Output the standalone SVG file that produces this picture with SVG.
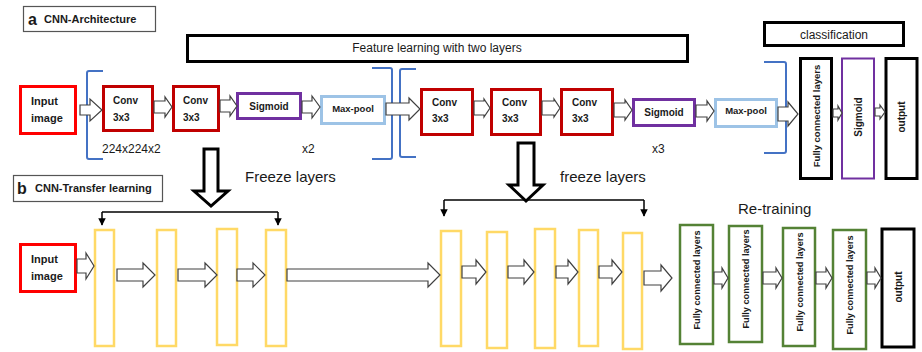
<svg xmlns="http://www.w3.org/2000/svg" width="922" height="352" viewBox="0 0 922 352">
<style>
text{font-family:"Liberation Sans",Arial,sans-serif;fill:#1a1a1a}
.b{font-weight:bold;font-size:10px}
.r{font-size:12px}
.big{font-size:15px}
.vt{font-weight:bold;font-size:9.5px;text-anchor:middle}
.vb{font-size:9.2px}
.box{fill:#fff}
.red{stroke:#ff0000;stroke-width:3}
.dred{stroke:#c00000;stroke-width:3}
.pur{stroke:#7030a0;stroke-width:3}
.lb{stroke:#9dc3e6;stroke-width:3}
.blk{stroke:#000;stroke-width:3}
.ttl{stroke:#555;stroke-width:1.2}
.yel{stroke:#ffd966;stroke-width:2.5}
.grn{stroke:#548235;stroke-width:2.5}
.arr{fill:#fff;stroke:#404040;stroke-width:1.2}
.darr{fill:#fff;stroke:#000;stroke-width:3}
.brk{fill:none;stroke:#4472c4;stroke-width:2}
.ln{fill:none;stroke:#000;stroke-width:1.5}
</style>
<defs>
<marker id="ah" viewBox="0 0 10 10" refX="9" refY="5" markerWidth="5" markerHeight="5" orient="auto"><path d="M0,0 L10,5 L0,10 Z" fill="#000"/></marker>
</defs>

<g id="title-a"><rect class="box ttl" x="23.5" y="6.5" width="132" height="25"/><text x="28" y="25" style="font-weight:bold;font-size:16px">a</text><text x="44" y="23" class="b" style="font-size:11px">CNN-Architecture</text></g>
<g id="feature-learning"><rect class="box blk" x="187.5" y="35.5" width="500" height="26"/><text x="437" y="52" class="r" text-anchor="middle">Feature learning with two layers</text></g>
<g id="classification"><rect class="box blk" x="764.5" y="22.5" width="139" height="23"/><text x="834" y="39" class="r" text-anchor="middle">classification</text></g>

<g id="input-a"><rect class="box red" x="20.5" y="86.5" width="55" height="47"/><text x="31" y="105" class="b" style="font-size:11px">Input</text><text x="31" y="122" class="b" style="font-size:11px">image</text></g>
<g id="conv1"><rect class="box dred" x="103.5" y="86.5" width="49" height="44"/><text x="113" y="104" class="b">Conv</text><text x="113" y="121" class="b">3x3</text></g>
<g id="conv2"><rect class="box dred" x="173.5" y="86.5" width="45" height="44"/><text x="183" y="104" class="b">Conv</text><text x="183" y="121" class="b">3x3</text></g>
<g id="sigmoid1"><rect class="box pur" x="237.5" y="93.5" width="63" height="25"/><text x="269" y="110" class="b" text-anchor="middle">Sigmoid</text></g>
<g id="maxpool1"><rect class="box lb" x="321.5" y="96.5" width="63" height="27"/><text x="353" y="112" class="b" text-anchor="middle" style="font-size:9.5px">Max-pool</text></g>
<g id="conv3"><rect class="box dred" x="421.5" y="89.5" width="51" height="45"/><text x="432" y="106" class="b">Conv</text><text x="432" y="122" class="b">3x3</text></g>
<g id="conv4"><rect class="box dred" x="491.5" y="89.5" width="49" height="45"/><text x="502" y="106" class="b">Conv</text><text x="502" y="122" class="b">3x3</text></g>
<g id="conv5"><rect class="box dred" x="561.5" y="89.5" width="51" height="45"/><text x="572" y="106" class="b">Conv</text><text x="572" y="122" class="b">3x3</text></g>
<g id="sigmoid2"><rect class="box pur" x="633.5" y="99.5" width="61" height="26"/><text x="664" y="116" class="b" text-anchor="middle">Sigmoid</text></g>
<g id="maxpool2"><rect class="box lb" x="715.5" y="99.5" width="61" height="27"/><text x="746" y="114" class="b" text-anchor="middle" style="font-size:9.5px">Max-pool</text></g>
<g id="fc-top"><rect class="box blk" x="800.5" y="58.5" width="31" height="120"/><text class="vt" transform="translate(816,116) rotate(-90)" dy="3.5">Fully connected layers</text></g>
<g id="sigmoid-v"><rect class="box pur" style="stroke-width:2" x="842" y="58.5" width="32" height="120"/><text class="vt" transform="translate(858,117) rotate(-90)" dy="3.5" style="font-size:10px">Sigmoid</text></g>
<g id="output-top"><rect class="box blk" x="886" y="58.5" width="31" height="120"/><text class="vt" transform="translate(901.5,117) rotate(-90)" dy="3.5" style="font-size:10px">output</text></g>

<g id="labels-a">
<text x="102" y="153" class="r">224x224x2</text>
<text x="302" y="153" class="r">x2</text>
<text x="652" y="153" class="r">x3</text>
<text x="245" y="182" class="big">Freeze layers</text>
<text x="560" y="182" class="big">freeze layers</text>
<text x="738" y="214" class="big">Re-training</text>
</g>

<g id="title-b"><rect class="box ttl" x="13.5" y="175.5" width="149" height="26"/><text x="17" y="194" style="font-weight:bold;font-size:16px">b</text><text x="35" y="192" class="b" style="font-size:11px">CNN-Transfer learning</text></g>
<g id="input-b"><rect class="box red" x="20.5" y="244.5" width="55" height="47"/><text x="31" y="263" class="b" style="font-size:11px">Input</text><text x="31" y="280" class="b" style="font-size:11px">image</text></g>
<g id="y1"><rect class="box yel" x="95" y="230" width="19" height="116"/></g>
<g id="y2"><rect class="box yel" x="157" y="230" width="19" height="116"/></g>
<g id="y3"><rect class="box yel" x="217" y="229" width="20" height="116"/></g>
<g id="y4"><rect class="box yel" x="266" y="230" width="20" height="116"/></g>
<g id="y5"><rect class="box yel" x="441" y="231" width="20" height="115"/></g>
<g id="y6"><rect class="box yel" x="487" y="232" width="20" height="116"/></g>
<g id="y7"><rect class="box yel" x="535" y="229" width="20" height="119"/></g>
<g id="y8"><rect class="box yel" x="579" y="230" width="19" height="116"/></g>
<g id="y9"><rect class="box yel" x="623" y="233" width="19" height="116"/></g>
<g id="fc1"><rect class="box grn" x="680" y="225" width="33" height="119"/><text class="vt vb" transform="translate(696.5,280) rotate(-90)" dy="3.5">Fully connected layers</text></g>
<g id="fc2"><rect class="box grn" x="729" y="226" width="33" height="116"/><text class="vt vb" transform="translate(745.5,279) rotate(-90)" dy="3.5">Fully connected layers</text></g>
<g id="fc3"><rect class="box grn" x="783" y="228" width="32" height="118"/><text class="vt vb" transform="translate(799,282) rotate(-90)" dy="3.5">Fully connected layers</text></g>
<g id="fc4"><rect class="box grn" x="833" y="230" width="33" height="119"/><text class="vt vb" transform="translate(849.5,285) rotate(-90)" dy="3.5">Fully connected layers</text></g>
<g id="output-b"><rect class="box blk" x="882" y="229" width="32" height="118"/><text class="vt" transform="translate(898,287) rotate(-90)" dy="3.5" style="font-size:10px">output</text></g>

<g id="connectors">
<path class="brk" d="M103,71 L89,71 Q87,71 87,73 L87,157 Q87,159 89,159 L103,159"/>
<path class="brk" d="M372,68 L390,68 Q392,68 392,70 L392,157 Q392,159 390,159 L372,159"/>
<path class="brk" d="M416,69 L402,69 Q400,69 400,71 L400,155 Q400,157 402,157 L416,157"/>
<path class="brk" d="M764,62 L784,62 Q786,62 786,64 L786,151 Q786,153 784,153 L764,153"/>

<path class="arr" d="M80,105 L90,105 L90,99 L102,110 L90,121 L90,115 L80,115 Z"/>
<path class="arr" d="M154,101 L165,101 L165,97 L172,107 L165,117 L165,113 L154,113 Z"/>
<path class="arr" d="M220,100 L230,100 L230,96 L237,106 L230,116 L230,112 L220,112 Z"/>
<path class="arr" d="M302,101 L312,101 L312,96 L320,107 L312,118 L312,113 L302,113 Z"/>
<path class="arr" d="M386,103 L409,103 L409,98 L420,109 L409,120 L409,115 L386,115 Z"/>
<path class="arr" d="M474,101 L484,101 L484,99 L490,108 L484,117 L484,115 L474,115 Z"/>
<path class="arr" d="M542,101 L554,101 L554,99 L560,108 L554,117 L554,115 L542,115 Z"/>
<path class="arr" d="M614,103 L625,103 L625,100 L632,110 L625,120 L625,117 L614,117 Z"/>
<path class="arr" d="M696,105 L707,105 L707,101 L714,111 L707,121 L707,117 L696,117 Z"/>
<path class="arr" d="M778,107 L788,107 L788,102 L798,114 L788,126 L788,121 L778,121 Z"/>
<path class="arr" d="M833,109 L838,109 L838,106 L842,113 L838,120 L838,117 L833,117 Z"/>
<path class="arr" d="M875,108 L880,108 L880,105 L885,112 L880,119 L880,116 L875,116 Z"/>

<path class="darr" d="M204,149 L218,149 L218,191 L228,191 L211,206 L194,191 L204,191 Z"/>
<path class="darr" d="M518,143 L534,143 L534,185 L543,185 L526,201 L509,185 L518,185 Z"/>

<path class="ln" d="M102,212 L278,212"/>
<path class="ln" d="M102,212 L102,225" marker-end="url(#ah)"/>
<path class="ln" d="M278,212 L278,225" marker-end="url(#ah)"/>
<path class="ln" d="M444,200 L644,200"/>
<path class="ln" d="M444,200 L444,216" marker-end="url(#ah)"/>
<path class="ln" d="M644,200 L644,216" marker-end="url(#ah)"/>

<path class="arr" d="M77,259 L86,259 L86,253 L94,266 L86,279 L86,273 L77,273 Z"/>
<path class="arr" d="M117,269 L143,269 L143,263 L155,275 L143,287 L143,281 L117,281 Z"/>
<path class="arr" d="M178,269 L205,269 L205,263 L217,275 L205,287 L205,281 L178,281 Z"/>
<path class="arr" d="M237,269 L253,269 L253,263 L265,275 L253,287 L253,281 L237,281 Z"/>
<path class="arr" d="M287,269 L428,269 L428,263 L440,275 L428,287 L428,281 L287,281 Z"/>
<path class="arr" d="M462,266 L476,266 L476,260 L486,272 L476,284 L476,278 L462,278 Z"/>
<path class="arr" d="M508,266 L524,266 L524,260 L534,272 L524,284 L524,278 L508,278 Z"/>
<path class="arr" d="M556,266 L568,266 L568,260 L578,272 L568,284 L568,278 L556,278 Z"/>
<path class="arr" d="M599,266 L612,266 L612,260 L622,272 L612,284 L612,278 L599,278 Z"/>
<path class="arr" d="M644,271 L661,271 L661,265 L672,278 L661,291 L661,285 L644,285 Z"/>
<path class="arr" d="M714,272 L722,272 L722,268 L728,278 L722,288 L722,284 L714,284 Z"/>
<path class="arr" d="M763,272 L776,272 L776,268 L782,278 L776,288 L776,284 L763,284 Z"/>
<path class="arr" d="M816,272 L826,272 L826,268 L832,278 L826,288 L826,284 L816,284 Z"/>
<path class="arr" d="M867,272 L875,272 L875,268 L881,278 L875,288 L875,284 L867,284 Z"/>
</g>
</svg>
